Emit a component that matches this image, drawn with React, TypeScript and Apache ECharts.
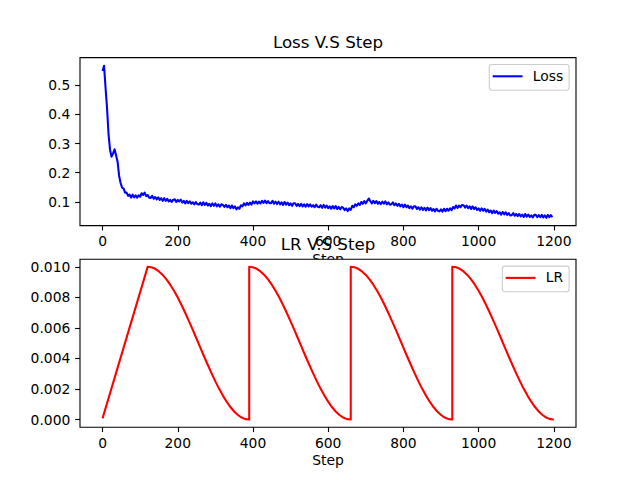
import React, { useEffect, useRef } from "react";
import * as echarts from "echarts";

// ---- data ----
const LOSS_STEP_STRIDE = 4;
const lossValues: number[] = [
  0.548, 0.566, 0.49, 0.42, 0.33, 0.278, 0.255, 0.266, 0.28, 0.259, 0.238, 0.19, 0.165, 0.149, 0.146, 0.132,
  0.132, 0.121, 0.125, 0.115, 0.125, 0.116, 0.123, 0.115, 0.123, 0.118, 0.13, 0.124, 0.132, 0.12, 0.124, 0.115,
  0.114, 0.121, 0.111, 0.117, 0.109, 0.116, 0.107, 0.113, 0.104, 0.113, 0.104, 0.111, 0.102, 0.107, 0.1, 0.108,
  0.109, 0.1, 0.107, 0.102, 0.108, 0.098, 0.104, 0.095, 0.104, 0.096, 0.102, 0.094, 0.099, 0.092, 0.1, 0.093,
  0.091, 0.098, 0.089, 0.099, 0.09, 0.097, 0.088, 0.094, 0.086, 0.095, 0.087, 0.095, 0.085, 0.092, 0.084, 0.092,
  0.09, 0.083, 0.09, 0.082, 0.088, 0.079, 0.088, 0.079, 0.085, 0.075, 0.082, 0.077, 0.089, 0.085, 0.095, 0.088,
  0.097, 0.09, 0.098, 0.091, 0.102, 0.095, 0.102, 0.094, 0.101, 0.095, 0.104, 0.097, 0.105, 0.096, 0.103, 0.096,
  0.096, 0.104, 0.094, 0.101, 0.093, 0.101, 0.092, 0.099, 0.09, 0.1, 0.091, 0.098, 0.089, 0.095, 0.087, 0.096,
  0.096, 0.087, 0.093, 0.086, 0.094, 0.085, 0.092, 0.084, 0.093, 0.085, 0.092, 0.084, 0.089, 0.082, 0.091, 0.084,
  0.082, 0.089, 0.08, 0.09, 0.081, 0.088, 0.079, 0.085, 0.077, 0.086, 0.078, 0.086, 0.076, 0.083, 0.075, 0.083,
  0.08, 0.072, 0.078, 0.069, 0.078, 0.073, 0.087, 0.082, 0.092, 0.087, 0.095, 0.09, 0.1, 0.094, 0.103, 0.095,
  0.104, 0.112, 0.103, 0.095, 0.104, 0.096, 0.103, 0.094, 0.1, 0.093, 0.101, 0.094, 0.102, 0.092, 0.099, 0.091,
  0.092, 0.099, 0.089, 0.095, 0.087, 0.094, 0.085, 0.091, 0.082, 0.091, 0.082, 0.088, 0.079, 0.085, 0.077, 0.085,
  0.085, 0.076, 0.082, 0.074, 0.082, 0.073, 0.08, 0.071, 0.081, 0.072, 0.079, 0.07, 0.076, 0.068, 0.077, 0.07,
  0.068, 0.075, 0.067, 0.077, 0.069, 0.077, 0.07, 0.078, 0.072, 0.083, 0.078, 0.088, 0.08, 0.088, 0.082, 0.09,
  0.089, 0.081, 0.088, 0.079, 0.085, 0.076, 0.085, 0.076, 0.082, 0.073, 0.078, 0.07, 0.078, 0.07, 0.077, 0.067,
  0.074, 0.065, 0.071, 0.062, 0.071, 0.063, 0.069, 0.06, 0.065, 0.057, 0.066, 0.058, 0.065, 0.056, 0.062, 0.054,
  0.055, 0.062, 0.053, 0.059, 0.052, 0.059, 0.051, 0.057, 0.049, 0.059, 0.05, 0.057, 0.049, 0.054, 0.047, 0.056,
  0.056, 0.048, 0.055, 0.048, 0.056, 0.047, 0.054, 0.046, 0.056, 0.048, 0.055, 0.048,
];

// LR: linear warm-up, then identical cosine decays restarting each cycle
const lrWarmupSteps = [0, 120];
const lrWarmupValues = [0.00008, 0.01];
const lrCycleStarts = [120, 390, 660, 930];
const LR_DECAY_STRIDE = 10;
const lrDecayValues = [
  0.01, 0.00997, 0.00987, 0.0097, 0.00947, 0.00918, 0.00883, 0.00843, 0.00799, 0.0075,
  0.00698, 0.00643, 0.00587, 0.00529, 0.00471, 0.00413, 0.00357, 0.00302, 0.0025, 0.00201,
  0.00157, 0.00117, 0.00082, 0.00053, 0.0003, 0.00013, 0.00003, 0.0,
];

const stepTicks = [0, 200, 400, 600, 800, 1000, 1200];
const lossTicks = [0.1, 0.2, 0.3, 0.4, 0.5];
const lrTicks = [0, 0.002, 0.004, 0.006, 0.008, 0.01];

const STEP_MIN = -59.95;
const STEP_MAX = 1258.95;
const LOSS_MIN = 0.0193;
const LOSS_MAX = 0.5937;
const LR_MIN = -0.0005;
const LR_MAX = 0.0105;

const FONT = "DejaVu Sans";
const TICK_FS = 13.89;
const TITLE_FS = 16.67;

export default function App() {
  const ref = useRef<HTMLDivElement>(null);

  useEffect(() => {
    if (!ref.current) return;
    const chart = echarts.init(ref.current, null, { renderer: "svg" });

    const lossData = lossValues.map((v, i) => [i * LOSS_STEP_STRIDE, v]);
    const lrData: number[][] = lrWarmupSteps.map((s, i) => [s, lrWarmupValues[i]]);
    lrCycleStarts.forEach((start) => {
      lrDecayValues.forEach((v, k) => {
        lrData.push([start + k * LR_DECAY_STRIDE, v]);
      });
    });

    const tickStyle = (values: number[]) => ({
      show: true,
      length: 4.86,
      lineStyle: { color: "#000", width: 1.11 },
      customValues: values,
    });

    const xAxisBase = (gridIndex: number) => ({
      type: "value",
      gridIndex,
      min: STEP_MIN,
      max: STEP_MAX,
      splitLine: { show: false },
      axisLine: { show: false, onZero: false },
      axisTick: tickStyle(stepTicks),
      axisLabel: {
        color: "#000",
        fontFamily: FONT,
        fontSize: TICK_FS,
        margin: 8.5,
        customValues: stepTicks,
        formatter: (v: number) => String(Math.round(v)),
      },
    });

    const yAxisBase = (gridIndex: number, min: number, max: number, ticks: number[], digits: number) => ({
      type: "value",
      gridIndex,
      min,
      max,
      splitLine: { show: false },
      axisLine: { show: false, onZero: false },
      axisTick: tickStyle(ticks),
      axisLabel: {
        color: "#000",
        fontFamily: FONT,
        fontSize: TICK_FS,
        margin: 9.7,
        customValues: ticks,
        formatter: (v: number) => v.toFixed(digits),
      },
    });

    const gridBase = (top: number) => ({
      left: 80,
      top,
      width: 496,
      height: 168,
      show: true,
      backgroundColor: "#fff",
      borderColor: "#000",
      borderWidth: 1.11,
    });

    const textEl = (text: string, x: number, y: number, fontSize: number, align: string, z: number) => ({
      type: "text",
      x,
      y,
      z,
      style: {
        text,
        fontFamily: FONT,
        fontSize,
        fill: "#000",
        align,
        verticalAlign: "middle",
      },
    });

    const option: any = {
      animation: false,
      backgroundColor: "#fff",
      grid: [gridBase(57.6), gridBase(259.2)],
      xAxis: [xAxisBase(0), xAxisBase(1)],
      yAxis: [
        yAxisBase(0, LOSS_MIN, LOSS_MAX, lossTicks, 1),
        yAxisBase(1, LR_MIN, LR_MAX, lrTicks, 3),
      ],
      series: [
        {
          name: "Loss",
          type: "line",
          xAxisIndex: 0,
          yAxisIndex: 0,
          data: lossData,
          showSymbol: false,
          symbol: "none",
          silent: true,
          lineStyle: { color: "#0000ff", width: 2.08, join: "round" },
          itemStyle: { color: "#0000ff" },
        },
        {
          name: "LR",
          type: "line",
          xAxisIndex: 1,
          yAxisIndex: 1,
          data: lrData,
          showSymbol: false,
          symbol: "none",
          silent: true,
          lineStyle: { color: "#ff0000", width: 2.08, join: "round" },
          itemStyle: { color: "#ff0000" },
        },
      ],
      graphic: [
        textEl("Loss V.S Step", 328, 42.8, TITLE_FS, "center", 10),
        textEl("LR V.S Step", 328, 244.6, TITLE_FS, "center", 10),
        // x label of upper axes: mostly hidden behind the lower axes' background
        textEl("Step", 328, 258.6, TICK_FS, "center", -10),
        textEl("Step", 328, 460.2, TICK_FS, "center", 10),
        // legend: Loss
        {
          type: "rect",
          shape: { x: 489.3, y: 64.5, width: 79.8, height: 25.7, r: 2.8 },
          style: { fill: "rgba(255,255,255,0.8)", stroke: "#cccccc", lineWidth: 1.1 },
          z: 20,
        },
        {
          type: "line",
          shape: { x1: 493.7, y1: 76.3, x2: 521.5, y2: 76.3 },
          style: { stroke: "#0000ff", lineWidth: 2.08, lineCap: "square" },
          z: 21,
        },
        textEl("Loss", 532.8, 75.6, TICK_FS, "left", 21),
        // legend: LR
        {
          type: "rect",
          shape: { x: 502.3, y: 266.1, width: 66.8, height: 25.7, r: 2.8 },
          style: { fill: "rgba(255,255,255,0.8)", stroke: "#cccccc", lineWidth: 1.1 },
          z: 20,
        },
        {
          type: "line",
          shape: { x1: 506.7, y1: 277.9, x2: 534.5, y2: 277.9 },
          style: { stroke: "#ff0000", lineWidth: 2.08, lineCap: "square" },
          z: 21,
        },
        textEl("LR", 545.8, 277.2, TICK_FS, "left", 21),
      ],
    };

    chart.setOption(option);
    return () => chart.dispose();
  }, []);

  return (
    <div
      ref={ref}
      style={{ position: "fixed", left: 0, top: 0, width: 640, height: 480, background: "#fff" }}
    />
  );
}
